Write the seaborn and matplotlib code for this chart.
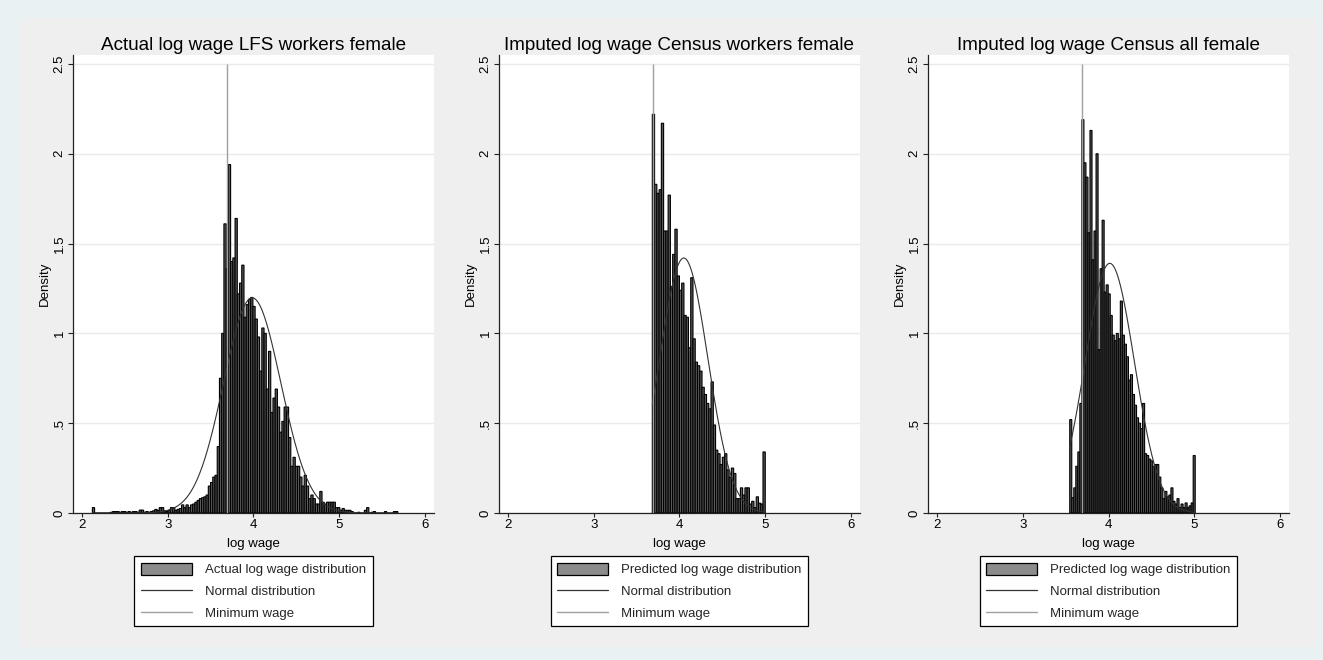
import numpy as np
import pandas as pd
import seaborn as sns
import matplotlib
matplotlib.use('Agg')
import matplotlib.pyplot as plt
from matplotlib.patches import Patch
from matplotlib.lines import Line2D

# minimum wage (log)
min_wage = 3.69

# panel 1: actual log wage, LFS workers female
lfs_start = 2.121
lfs_width = 0.026
lfs_density = [
    0.03, 0, 0, 0, 0, 0, 0, 0, 0.004, 0.008,
    0.008, 0.008, 0.004, 0.008, 0.008, 0.004, 0.008, 0.004, 0.008, 0.008,
    0.004, 0.016, 0.016, 0.004, 0.008, 0.004, 0.008, 0.012, 0.02, 0.015,
    0.03, 0.03, 0.012, 0.008, 0.015, 0.03, 0.03, 0.015, 0.02, 0.025,
    0.045, 0.03, 0.045, 0.03, 0.045, 0.05, 0.06, 0.07, 0.08, 0.085,
    0.09, 0.10, 0.15, 0.17, 0.20, 0.21, 0.37, 0.75, 1.00, 1.61,
    1.36, 1.94, 1.40, 1.42, 1.64, 1.22, 1.28, 1.38, 1.09, 1.16,
    1.19, 1.20, 1.15, 1.08, 0.98, 0.79, 1.03, 1.00, 0.69, 0.90,
    0.56, 0.64, 0.69, 0.59, 0.45, 0.51, 0.59, 0.59, 0.42, 0.26,
    0.31, 0.26, 0.26, 0.20, 0.15, 0.21, 0.15, 0.08, 0.10, 0.08,
    0.05, 0.05, 0.12, 0.06, 0.05, 0.06, 0.06, 0.06, 0.06, 0.03,
    0.03, 0.015, 0.025, 0.015, 0.015, 0.015, 0.008, 0, 0, 0.004,
    0, 0, 0.015, 0.03, 0, 0.004, 0.008, 0, 0, 0,
    0, 0.008, 0, 0, 0, 0.008, 0.008,
]
lfs_mean, lfs_sd = 3.985, 0.333

# panel 2: imputed log wage, Census workers female
cw_start = 3.683
cw_width = 0.02634
cw_density = [
    2.22, 1.83, 1.78, 1.80, 2.17, 1.57, 1.57, 1.77, 1.26, 1.44,
    1.58, 1.32, 1.24, 1.28, 1.10, 1.09, 0.92, 1.31, 0.97, 0.84,
    0.82, 0.79, 0.70, 0.66, 0.61, 0.58, 0.73, 0.49, 0.35, 0.33,
    0.27, 0.31, 0.33, 0.24, 0.20, 0.25, 0.22, 0.08, 0.08, 0.14,
    0.10, 0.14, 0.14, 0.05, 0.065, 0.03, 0.09, 0.055, 0.05, 0.34,
]
cw_mean, cw_sd = 4.05, 0.281

# panel 3: imputed log wage, Census all female
ca_start = 3.548
ca_width = 0.0236
ca_density = [
    0.52, 0.085, 0.14, 0.26, 0.34, 0.61, 2.19, 1.95, 1.87, 1.56,
    2.13, 1.41, 1.57, 2.00, 0.91, 1.36, 1.63, 1.23, 1.27, 1.22,
    1.10, 0.99, 0.96, 1.00, 0.97, 1.18, 0.99, 0.94, 0.87, 0.74,
    0.77, 0.66, 0.60, 0.53, 0.50, 0.47, 0.61, 0.33, 0.32, 0.30,
    0.29, 0.26, 0.27, 0.27, 0.20, 0.14, 0.08, 0.12, 0.09, 0.10,
    0.14, 0.065, 0.05, 0.08, 0.03, 0.05, 0.03, 0.056, 0.03, 0.04,
    0.056, 0.32,
]
ca_mean, ca_sd = 4.015, 0.287

titles = [
    "Actual log wage LFS workers female",
    "Imputed log wage Census workers female",
    "Imputed log wage Census all female",
]
hist_labels = [
    "Actual log wage distribution",
    "Predicted log wage distribution",
    "Predicted log wage distribution",
]
x_ticks = [2, 3, 4, 5, 6]
y_ticks = [0, 0.5, 1, 1.5, 2, 2.5]
y_tick_labels = ["0", ".5", "1", "1.5", "2", "2.5"]

panels = [
    (lfs_start, lfs_width, lfs_density, lfs_mean, lfs_sd),
    (cw_start, cw_width, cw_density, cw_mean, cw_sd),
    (ca_start, ca_width, ca_density, ca_mean, ca_sd),
]

sns.set_theme(style="white")
plt.rcParams['font.family'] = ['Liberation Sans', 'DejaVu Sans']

bar_color = '#5a5a5a'
legend_bar_color = '#8c8c8c'
curve_color = '#333333'
mw_color = '#a0a0a0'

W, H = 1323, 660
fig = plt.figure(figsize=(W / 100, H / 100), dpi=100, facecolor='#e9f1f3')
# inner graph region (grey band)
bg = fig.add_axes([20 / W, 13 / H, 1297 / W, 629 / H], zorder=-10)
bg.set_facecolor('#efefef')
bg.set_xticks([])
bg.set_yticks([])
for s in bg.spines.values():
    s.set_visible(False)

lefts = [73, 499, 928]
for i, (start, width, dens, mu, sd) in enumerate(panels):
    ax = fig.add_axes([lefts[i] / W, 147 / H, 361 / W, 458 / H])
    ax.set_facecolor('white')

    n = len(dens)
    df = pd.DataFrame({
        'log_wage': start + width * (np.arange(n) + 0.5),
        'density': dens,
    })
    sns.histplot(data=df, x='log_wage', weights='density', binwidth=width,
                 binrange=(start, start + n * width), stat='count', ax=ax,
                 color=bar_color, edgecolor='black', linewidth=0.8, alpha=1,
                 snap=False, zorder=2)

    xs = np.linspace(start, start + n * width, 400)
    pdf = np.exp(-0.5 * ((xs - mu) / sd) ** 2) / (sd * np.sqrt(2 * np.pi))
    sns.lineplot(x=xs, y=pdf, ax=ax, color=curve_color, linewidth=0.8, zorder=3)

    ax.vlines(min_wage, 0, y_ticks[-1], color=mw_color, linewidth=1.0, zorder=4)

    ax.set_xlim(1.895, 6.105)
    ax.set_ylim(0, 2.55)
    ax.set_xticks(x_ticks)
    ax.set_xticklabels([str(t) for t in x_ticks])
    ax.set_yticks(y_ticks)
    ax.set_yticklabels(y_tick_labels)
    plt.setp(ax.get_yticklabels(), rotation=90, va='center')
    ax.yaxis.grid(True, color='#eaeaea', linewidth=1.0, zorder=0)
    ax.xaxis.grid(False)
    ax.set_axisbelow(True)

    for side in ['top', 'right']:
        ax.spines[side].set_visible(False)
    for side in ['left', 'bottom']:
        ax.spines[side].set_color('#222222')
        ax.spines[side].set_linewidth(0.9)

    ax.tick_params(axis='x', length=3, width=0.8, color='#222222', pad=1.5,
                   labelsize=9.5, labelcolor='black', bottom=True)
    ax.tick_params(axis='y', length=3.6, width=0.8, color='#222222', pad=1.8,
                   labelsize=9.5, labelcolor='black', left=True)

    ax.set_title(titles[i], fontsize=13.6, pad=3.8, color='black')
    ax.set_xlabel("log wage", fontsize=9.5, labelpad=5, color='black')
    ax.set_ylabel("Density", fontsize=9.5, labelpad=2, color='black')

    handles = [
        Patch(facecolor=legend_bar_color, edgecolor='black', linewidth=0.9),
        Line2D([0], [0], color=curve_color, linewidth=0.9),
        Line2D([0], [0], color=mw_color, linewidth=1.0),
    ]
    labels = [hist_labels[i], "Normal distribution", "Minimum wage"]
    leg = ax.legend(handles, labels, loc='upper center',
                    bbox_to_anchor=(0.5, -0.094), frameon=True, fancybox=False,
                    edgecolor='black', facecolor='white', framealpha=1,
                    handlelength=3.85, handleheight=1.05, handletextpad=1.0,
                    labelspacing=0.62, borderpad=0.5, borderaxespad=0,
                    fontsize=9.5)
    leg.get_frame().set_linewidth(0.9)

fig.savefig("out.png", dpi=100, facecolor=fig.get_facecolor())
